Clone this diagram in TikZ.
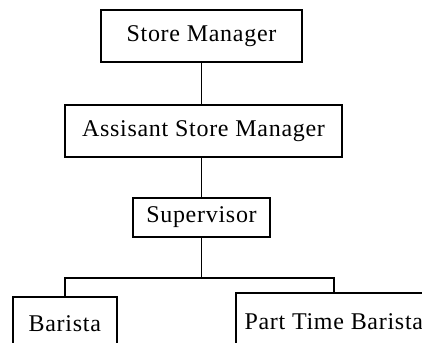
\documentclass[tikz,border=0pt]{standalone}
\usepackage{fontspec}
\setmainfont{Liberation Serif}

\begin{document}
\begin{tikzpicture}[x=1pt,y=-1pt,line width=1.6pt,
  box/.style={draw,inner sep=0pt,font=\fontsize{24}{28}\selectfont\addfontfeature{LetterSpace=3}}]
\useasboundingbox (0,0) rectangle (422,342);
\clip (0,0) rectangle (422,342);
\node[box,minimum width=201pt,minimum height=52pt] (SM)  at (201.5,36)  {Store Manager};
\node[box,minimum width=277pt,minimum height=52pt] (ASM) at (203.5,131) {Assisant Store Manager};
\node[box,minimum width=137pt,minimum height=39pt] (SUP) at (201.5,217.5) {Supervisor};
\node[box,minimum width=104pt,minimum height=54pt,anchor=north west] (B)   at (12,296)  {Barista};
\node[box,minimum width=196pt,minimum height=57pt,anchor=north west] (PTB) at (235,292) {Part Time Barista};
\draw (SM.south) -- (SM.south |- ASM.north);
\draw (SUP.north) -- (SUP.north |- ASM.south);
\draw (SUP.south) -- ++(0,40) coordinate (J);
\draw (B.north) |- (J) -| (PTB.north);
\end{tikzpicture}
\end{document}
